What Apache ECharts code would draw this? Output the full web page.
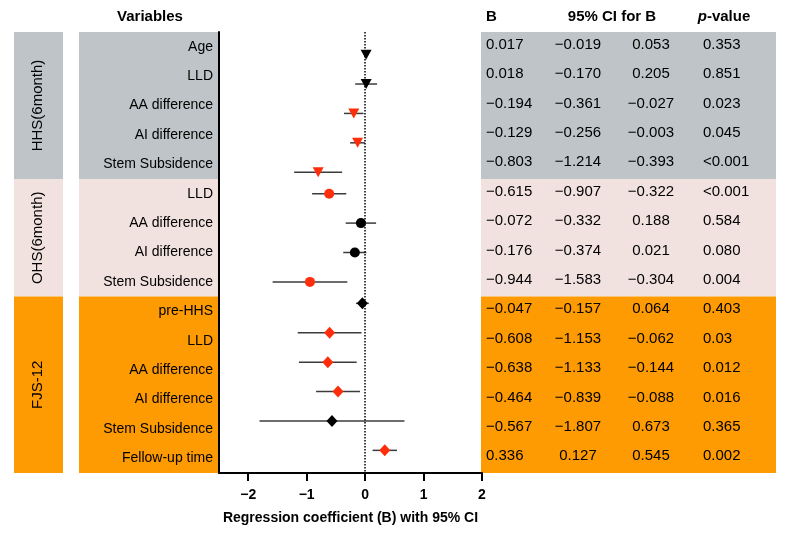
<!DOCTYPE html>
<html>
<head>
<meta charset="utf-8">
<script src="https://cdn.jsdelivr.net/npm/echarts@6/dist/echarts.min.js"></script>
<style>
html,body{margin:0;padding:0;background:#fff}
#main{width:787px;height:535px}
</style>
</head>
<body>
<div id="main"></div>
<script>
// groups
var groupNames = ['HHS(6month)', 'OHS(6month)', 'FJS-12'];
var groupColors = ['#bec4c7', '#f2e2df', '#fe9a02'];
var groupSymbols = ['triangle', 'circle', 'diamond'];

// HHS(6month)
var hhsVars = ['Age', 'LLD', 'AA difference', 'AI difference', 'Stem Subsidence'];
var hhsB = [0.017, 0.018, -0.194, -0.129, -0.803];
var hhsLow = [-0.019, -0.170, -0.361, -0.256, -1.214];
var hhsHigh = [0.053, 0.205, -0.027, -0.003, -0.393];
var hhsP = ['0.353', '0.851', '0.023', '0.045', '<0.001'];

// OHS(6month)
var ohsVars = ['LLD', 'AA difference', 'AI difference', 'Stem Subsidence'];
var ohsB = [-0.615, -0.072, -0.176, -0.944];
var ohsLow = [-0.907, -0.332, -0.374, -1.583];
var ohsHigh = [-0.322, 0.188, 0.021, -0.304];
var ohsP = ['<0.001', '0.584', '0.080', '0.004'];

// FJS-12
var fjsVars = ['pre-HHS', 'LLD', 'AA difference', 'AI difference', 'Stem Subsidence', 'Fellow-up time'];
var fjsB = [-0.047, -0.608, -0.638, -0.464, -0.567, 0.336];
var fjsLow = [-0.157, -1.153, -1.133, -0.839, -1.807, 0.127];
var fjsHigh = [0.064, -0.062, -0.144, -0.088, 0.673, 0.545];
var fjsP = ['0.403', '0.03', '0.012', '0.016', '0.365', '0.002'];

var xTicks = [-2, -1, 0, 1, 2];

var groups = [
	{vars: hhsVars, b: hhsB, low: hhsLow, high: hhsHigh, p: hhsP},
	{vars: ohsVars, b: ohsB, low: ohsLow, high: ohsHigh, p: ohsP},
	{vars: fjsVars, b: fjsB, low: fjsLow, high: fjsHigh, p: fjsP}
];
// the original draws each group's marks a bit off the tick row
var groupShift = [0.27, 0, -0.27];

var RED = '#ff2d0a';
var FONT = '"Liberation Sans", Arial, Helvetica, sans-serif';

var labels = [];
var rows = [];
var bars = [];
var points = [];
var row = 0;
for (var g = 0; g < groups.length; g++) {
	var gr = groups[g];
	var start = row;
	for (var i = 0; i < gr.vars.length; i++) {
		labels.push(gr.vars[i]);
		var sig = gr.p[i].charAt(0) == '<' || parseFloat(gr.p[i]) < 0.05;
		var yy = row + groupShift[g];
		bars.push([gr.low[i], gr.high[i], yy]);
		points.push({
			value: [gr.b[i], yy],
			symbol: groupSymbols[g],
			symbolRotate: g == 0 ? 180 : 0,
			symbolSize: g == 0 ? [11, 10] : (g == 1 ? 10 : [11, 12]),
			itemStyle: {color: sig ? RED : '#000', opacity: 1}
		});
		rows.push({b: gr.b[i], low: gr.low[i], high: gr.high[i], p: gr.p[i], row: row});
		row++;
	}
	gr.start = start;
	gr.end = row - 1;
}
var nRows = row;

function fmt(v) {
	return v.toFixed(3).replace('-', '\u2212');
}

var myChart = echarts.init(document.getElementById('main'));

var option = {
	backgroundColor: '#fff',
	animation: false,
	grid: {left: 219, right: 305, top: 32, bottom: 62, outerBoundsMode: 'none'},
	xAxis: {
		type: 'value',
		min: -2.5,
		max: 2,
		axisLine: {onZero: false, lineStyle: {color: '#000', width: 2}},
		axisTick: {show: true, customValues: xTicks, length: 8, lineStyle: {color: '#000', width: 2}},
		axisLabel: {
			customValues: xTicks, color: '#000', fontSize: 14, fontWeight: 'bold', fontFamily: FONT, margin: 15,
			formatter: function (v) { return String(v).replace('-', '\u2212'); }
		},
		splitLine: {show: false},
		name: 'Regression coefficient (B) with 95% CI',
		nameLocation: 'middle',
		nameGap: 38,
		nameTextStyle: {color: '#000', fontSize: 14, fontWeight: 'bold', fontFamily: FONT}
	},
	yAxis: [{
		type: 'category',
		data: labels,
		inverse: true,
		axisLine: {onZero: false, lineStyle: {color: '#000', width: 2}},
		axisTick: {alignWithLabel: true, length: 6, lineStyle: {color: '#000', width: 2}},
		axisLabel: {color: '#000', fontSize: 14, fontFamily: FONT, margin: 6},
		splitLine: {show: false}
	}, {
		type: 'value',
		show: false,
		inverse: true,
		min: -0.5,
		max: nRows - 0.5,
		splitLine: {show: false}
	}],
	series: [{
		type: 'custom',
		yAxisIndex: 1,
		data: bars,
		z: 3,
		renderItem: function (params, api) {
			var a = api.coord([api.value(0), api.value(2)]);
			var b = api.coord([api.value(1), api.value(2)]);
			return {
				type: 'line',
				shape: {x1: a[0], y1: a[1], x2: b[0], y2: b[1]},
				style: {stroke: '#3c3c3c', lineWidth: 1.5}
			};
		}
	}, {
		type: 'scatter',
		yAxisIndex: 1,
		data: points,
		z: 4,
		markLine: {
			silent: true,
			symbol: 'none',
			label: {show: false},
			lineStyle: {color: '#000', type: 'dotted', width: 1.5},
			data: [{xAxis: 0}]
		}
	}]
};
myChart.setOption(option);

// panels and table, placed with the value axis rows
function rowY(v) {
	return myChart.convertToPixel({yAxisIndex: 1}, v);
}
var graphic = [];
for (var g = 0; g < groups.length; g++) {
	var yTop = rowY(groups[g].start - 0.5);
	var yBot = rowY(groups[g].end + 0.5);
	graphic.push({type: 'rect', z: -10, shape: {x: 14, y: yTop, width: 49, height: yBot - yTop}, style: {fill: groupColors[g]}});
	graphic.push({type: 'rect', z: -10, shape: {x: 79, y: yTop, width: 140, height: yBot - yTop}, style: {fill: groupColors[g]}});
	graphic.push({type: 'rect', z: -10, shape: {x: 481, y: yTop, width: 295, height: yBot - yTop}, style: {fill: groupColors[g]}});
	graphic.push({
		type: 'text', x: 38, y: (yTop + yBot) / 2, rotation: Math.PI / 2,
		style: {text: groupNames[g], x: 0, y: 0, textAlign: 'center', textVerticalAlign: 'middle', font: '15px ' + FONT, fill: '#000'}
	});
}
for (var r = 0; r < rows.length; r++) {
	var ty = rowY(rows[r].row) - 2;
	var cells = [
		[486, fmt(rows[r].b), 'left'],
		[578, fmt(rows[r].low), 'center'],
		[651, fmt(rows[r].high), 'center'],
		[703, rows[r].p, 'left']
	];
	for (var c = 0; c < cells.length; c++) {
		graphic.push({
			type: 'text',
			style: {text: cells[c][1], x: cells[c][0], y: ty, textAlign: cells[c][2], textVerticalAlign: 'middle', font: '15px ' + FONT, fill: '#000'}
		});
	}
}
// headers
var headFont = 'bold 15px ' + FONT;
graphic.push({type: 'text', style: {text: 'Variables', x: 150, y: 17, textAlign: 'center', textVerticalAlign: 'middle', font: headFont, fill: '#000'}});
graphic.push({type: 'text', style: {text: 'B', x: 486, y: 17, textAlign: 'left', textVerticalAlign: 'middle', font: headFont, fill: '#000'}});
graphic.push({type: 'text', style: {text: '95% CI for B', x: 612, y: 17, textAlign: 'center', textVerticalAlign: 'middle', font: headFont, fill: '#000'}});
graphic.push({
	type: 'text',
	style: {
		text: '{i|p}{b|-value}', x: 724, y: 17, textAlign: 'center', textVerticalAlign: 'middle', fill: '#000',
		rich: {
			i: {fontStyle: 'italic', fontWeight: 'bold', fontSize: 15, fontFamily: FONT},
			b: {fontWeight: 'bold', fontSize: 15, fontFamily: FONT}
		}
	}
});
myChart.setOption({graphic: graphic});
</script>
</body>
</html>
